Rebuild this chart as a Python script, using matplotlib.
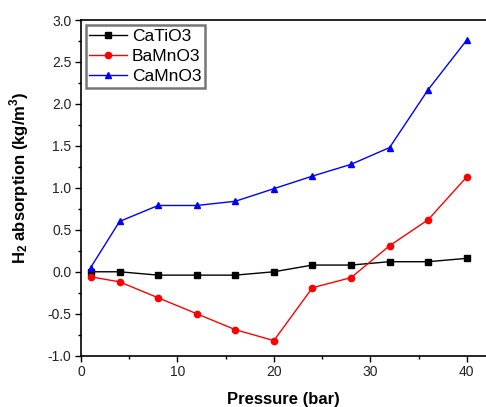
import matplotlib
matplotlib.use("Agg")
import matplotlib.pyplot as plt
from matplotlib.ticker import MultipleLocator

plt.rcParams['font.family'] = ['Liberation Sans', 'DejaVu Sans']
plt.rcParams['mathtext.fontset'] = 'custom'
plt.rcParams['mathtext.rm'] = 'Liberation Sans'
plt.rcParams['mathtext.bf'] = 'Liberation Sans:bold'

pressure = [1, 4, 8, 12, 16, 20, 24, 28, 32, 36, 40]
catio3 = [0.0, 0.0, -0.04, -0.04, -0.04, 0.0, 0.08, 0.08, 0.12, 0.12, 0.16]
bamno3 = [-0.06, -0.12, -0.31, -0.50, -0.69, -0.82, -0.19, -0.07, 0.31, 0.62, 1.13]
camno3 = [0.05, 0.60, 0.79, 0.79, 0.84, 0.99, 1.14, 1.28, 1.48, 2.17, 2.76]

fig = plt.figure(figsize=(4.86, 4.07), dpi=100)
W, H = 486, 407
ax = fig.add_axes([81 / W, (H - 355.7) / H, (486 - 81) / W, (355.7 - 20) / H])

ax.plot(pressure, catio3, color='black', marker='s', markersize=4, linewidth=1, label='CaTiO3')
ax.plot(pressure, bamno3, color='red', marker='o', markersize=4.5, linewidth=1, label='BaMnO3')
ax.plot(pressure, camno3, color='blue', marker='^', markersize=5, linewidth=1, label='CaMnO3')

ax.set_xlim(0, 42)
ax.set_ylim(-1.0, 3.0)
ax.xaxis.set_major_locator(MultipleLocator(10))
ax.xaxis.set_minor_locator(MultipleLocator(5))
ax.yaxis.set_major_locator(MultipleLocator(0.5))
ax.yaxis.set_minor_locator(MultipleLocator(0.25))
ax.yaxis.set_major_formatter(matplotlib.ticker.FormatStrFormatter('%.1f'))
ax.spines['right'].set_visible(False)
for s in ['left', 'bottom', 'top']:
    ax.spines[s].set_linewidth(1.2)
ax.tick_params(axis='both', which='major', direction='out', length=4, width=1, labelsize=10, pad=3,
               labelcolor='#222222')
ax.tick_params(axis='both', which='minor', direction='out', length=2.5, width=1)
ax.tick_params(top=False, right=False)

ax.set_xlabel('Pressure (bar)', fontsize=12, fontweight='bold', labelpad=9)
ax.set_ylabel(r'$\mathbf{H_2}$ absorption (kg/m$^\mathbf{3}$)', fontsize=12, fontweight='bold')
ax.yaxis.set_label_coords(-0.123, 0.53)

leg = ax.legend(loc='upper left', bbox_to_anchor=(0.003, 0.995), fontsize=12.5, frameon=True,
                fancybox=False, borderpad=0.2, handlelength=2.2, handletextpad=0.25,
                labelspacing=0.3, borderaxespad=0.2)
leg.get_frame().set_edgecolor('#555555')
leg.get_frame().set_linewidth(1.8)

fig.savefig('out.png', dpi=100)
